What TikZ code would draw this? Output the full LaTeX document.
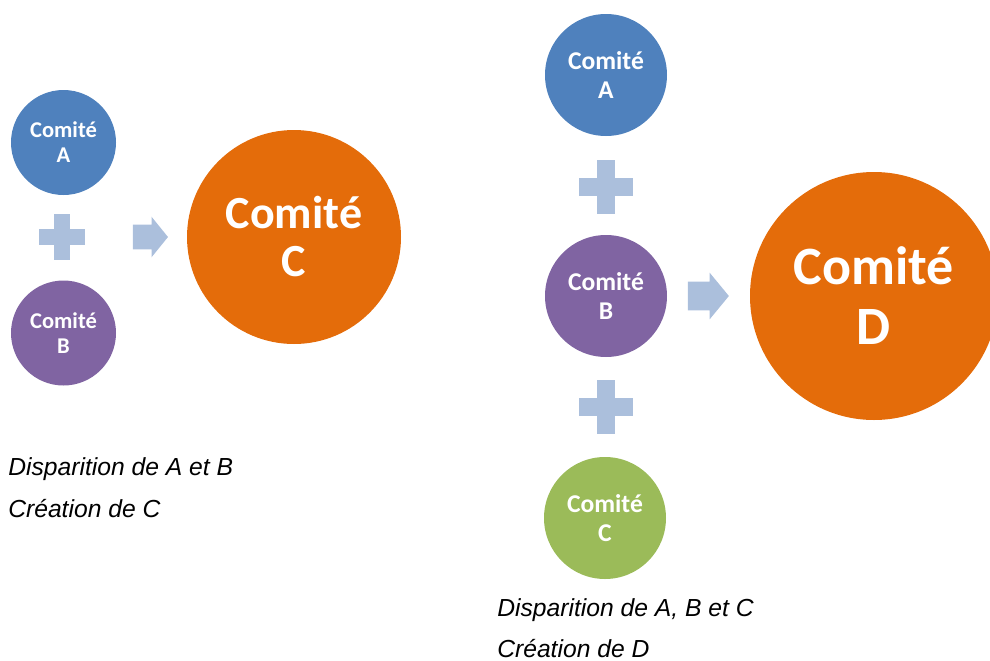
\documentclass[tikz,border=0pt]{standalone}
\usepackage{fontspec}
\setmainfont{Liberation Sans}
\newfontfamily\calib{Carlito}
\usetikzlibrary{shapes.arrows}
\definecolor{comA}{HTML}{4F81BD}
\definecolor{comB}{HTML}{8064A2}
\definecolor{comC}{HTML}{9BBB59}
\definecolor{comNew}{HTML}{E46C0A}
\definecolor{symb}{HTML}{ABBFDC}

\tikzset{
  plussign/.pic={
    \fill[symb] (-1,-0.34) rectangle (1,0.34);
    \fill[symb] (-0.34,-1) rectangle (0.34,1);
  }
}

\begin{document}
\begin{tikzpicture}[
    x=0.75pt, y=-0.75pt,
    comite/.style={circle, inner sep=0pt, text=white, align=center},
    smallL/.style={comite, minimum size=78.75pt,
                   font=\calib\bfseries\fontsize{16.9}{18.75}\selectfont},
    smallR/.style={comite, minimum size=91.5pt,
                   font=\calib\bfseries\fontsize{19.2}{22}\selectfont},
    bigC/.style={comite, fill=comNew, minimum size=160.5pt,
                 font=\calib\bfseries\fontsize{34.5}{36}\selectfont},
    bigD/.style={comite, fill=comNew, minimum size=186pt,
                 font=\calib\bfseries\fontsize{40.5}{45}\selectfont},
    fatarrow/.style={single arrow, fill=symb, inner xsep=0pt},
    note/.style={anchor=base west, inner sep=0pt,
                 font=\itshape\fontsize{18.5}{22}\selectfont}
]
  \clip (0,0) rectangle (990,661);

  % left group
  \node[smallL, fill=comA] (leftA) at (63.5,142.5) {Comité\\A};
  \node[smallL, fill=comB] (leftB) at (63.5,333) {Comité\\B};
  \pic[scale=23] at (62,237) {plussign};
  \node[fatarrow, inner ysep=9pt, minimum height=26.25pt,
        single arrow head extend=6pt, single arrow tip angle=102] (leftArr) at (145.5,237) {};
  \node[bigC] (newC) at (294,237) {Comité\\C};
  \node[note] (noteL1) at (8,475) {Disparition de A et B};
  \node[note] (noteL2) at (8,517) {Création de C};

  % right group
  \node[smallR, fill=comA] (rightA) at (606,75) {Comité\\A};
  \pic[scale=27] at (606,187) {plussign};
  \node[smallR, fill=comB] (rightB) at (606,296) {Comité\\B};
  \pic[scale=27] at (606,407) {plussign};
  \node[smallR, fill=comC] (rightC) at (605,518) {Comité\\C};
  \node[fatarrow, inner ysep=10.5pt, minimum height=30.75pt,
        single arrow head extend=6.75pt, single arrow tip angle=101] (rightArr) at (702.5,296) {};
  \node[bigD] (newD) at (874,296) {Comité\\D};
  \node[note] (noteR1) at (497,616) {Disparition de A, B et C};
  \node[note] (noteR2) at (497,657) {Création de D};
\end{tikzpicture}
\end{document}
